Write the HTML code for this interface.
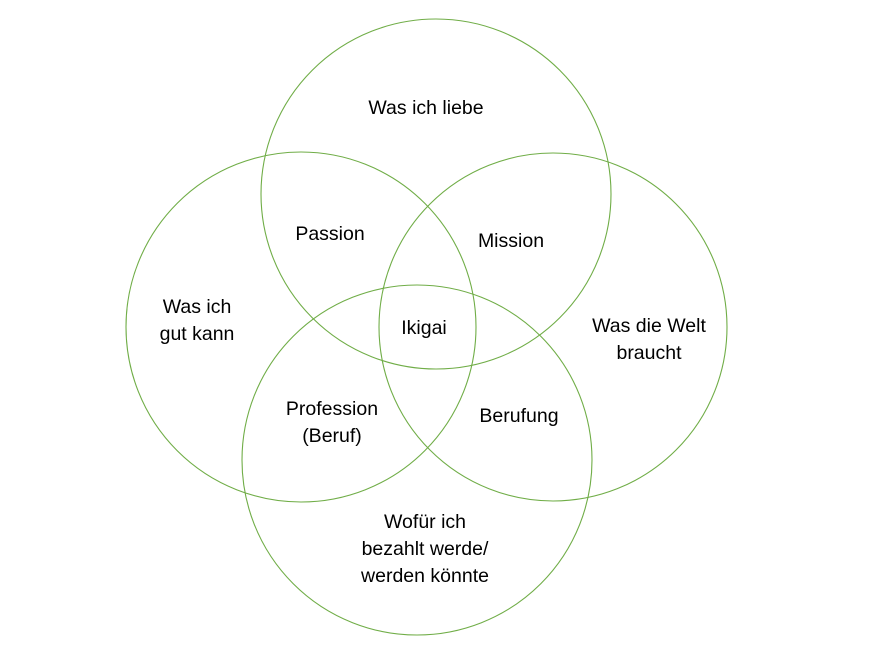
<!DOCTYPE html>
<html><head><meta charset="utf-8"><style>
html,body{margin:0;padding:0;background:#fff;}
svg{display:block}
text{font-family:"Liberation Sans",sans-serif;font-size:19.5px;fill:#000;text-anchor:middle}
</style></head><body>
<svg width="873" height="660" viewBox="0 0 873 660">
<g fill="none" stroke="#70ad47" stroke-width="1.1">
<circle cx="436" cy="194" r="175"/>
<circle cx="301" cy="327" r="175"/>
<circle cx="553" cy="327" r="174"/>
<circle cx="417" cy="460" r="175"/>
</g>
<text x="426" y="114">Was ich liebe</text>
<text x="330" y="240">Passion</text>
<text x="511" y="247">Mission</text>
<text x="197" y="313">Was ich</text>
<text x="197" y="340">gut kann</text>
<text x="424" y="334">Ikigai</text>
<text x="649" y="332">Was die Welt</text>
<text x="649" y="359">braucht</text>
<text x="332" y="415">Profession</text>
<text x="332" y="442">(Beruf)</text>
<text x="519" y="422">Berufung</text>
<text x="425" y="528">Wofür ich</text>
<text x="425" y="555">bezahlt werde/</text>
<text x="425" y="582">werden könnte</text>
</svg>
</body></html>
